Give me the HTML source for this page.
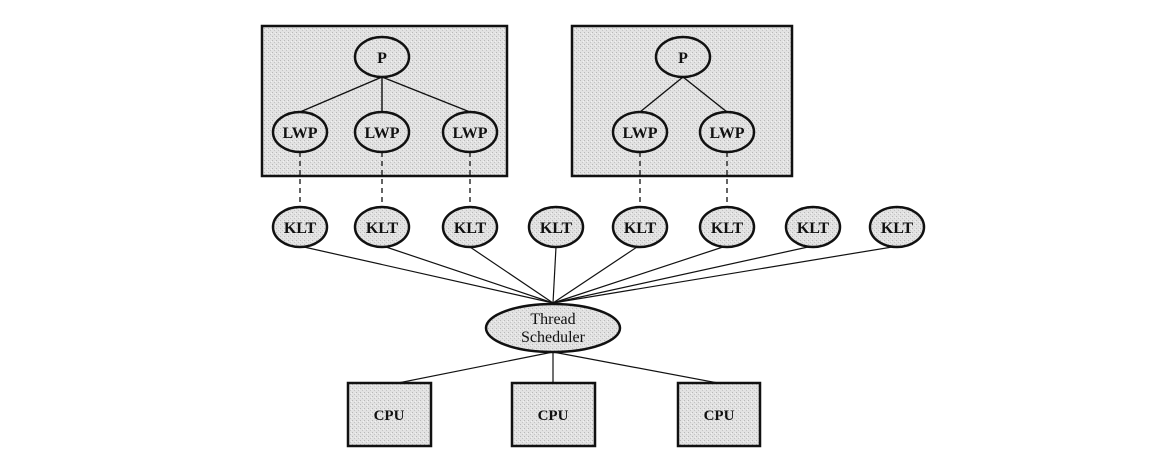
<!DOCTYPE html>
<html><head><style>body{margin:0;background:#fff}svg{display:block}</style></head><body>
<svg width="1157" height="456" viewBox="0 0 1157 456" xmlns="http://www.w3.org/2000/svg" font-family="Liberation Serif, serif" font-weight="bold">
<defs>
<pattern id="g" width="4" height="4" patternUnits="userSpaceOnUse">
<rect width="4" height="4" fill="#e2e2e2"/><rect x="0" y="0" width="1" height="1" fill="#b8b8b8"/><rect x="2" y="2" width="1" height="1" fill="#c4c4c4"/><rect x="3" y="1" width="1" height="1" fill="#f2f2f2"/>
</pattern>
</defs>
<g stroke="#111" stroke-width="2.5">
<rect x="262" y="26" width="245" height="150" fill="url(#g)"/>
<rect x="572" y="26" width="220" height="150" fill="url(#g)"/>
</g>
<g stroke="#111" stroke-width="1.4">
<line x1="382" y1="77" x2="300" y2="112"/><line x1="382" y1="77" x2="382" y2="112"/><line x1="382" y1="77" x2="470" y2="112"/>
<line x1="683" y1="77" x2="640" y2="112"/><line x1="683" y1="77" x2="727" y2="112"/>
</g>
<g stroke="#222" stroke-width="1.4" stroke-dasharray="5,4">
<line x1="300" y1="152" x2="300" y2="207"/><line x1="382" y1="152" x2="382" y2="207"/><line x1="470" y1="152" x2="470" y2="207"/>
<line x1="640" y1="152" x2="640" y2="207"/><line x1="727" y1="152" x2="727" y2="207"/>
</g>
<g stroke="#111" stroke-width="1.2">
<line x1="304" y1="247" x2="553" y2="303"/><line x1="386" y1="247" x2="553" y2="303"/><line x1="470" y1="247" x2="553" y2="303"/><line x1="556" y1="247" x2="553" y2="303"/>
<line x1="637" y1="247" x2="553" y2="303"/><line x1="723" y1="247" x2="553" y2="303"/><line x1="808" y1="247" x2="553" y2="303"/><line x1="892" y1="247" x2="553" y2="303"/>
<line x1="553" y1="352" x2="398" y2="383"/><line x1="553" y1="352" x2="553" y2="383"/><line x1="553" y1="352" x2="718" y2="383"/>
</g>
<g stroke="#111" stroke-width="2.5" fill="url(#g)">
<ellipse cx="382" cy="57" rx="27" ry="20"/><ellipse cx="683" cy="57" rx="27" ry="20"/>
<ellipse cx="300" cy="132" rx="27" ry="20"/><ellipse cx="382" cy="132" rx="27" ry="20"/><ellipse cx="470" cy="132" rx="27" ry="20"/>
<ellipse cx="640" cy="132" rx="27" ry="20"/><ellipse cx="727" cy="132" rx="27" ry="20"/>
<ellipse cx="300" cy="227" rx="27" ry="20"/><ellipse cx="382" cy="227" rx="27" ry="20"/><ellipse cx="470" cy="227" rx="27" ry="20"/><ellipse cx="556" cy="227" rx="27" ry="20"/>
<ellipse cx="640" cy="227" rx="27" ry="20"/><ellipse cx="727" cy="227" rx="27" ry="20"/><ellipse cx="813" cy="227" rx="27" ry="20"/><ellipse cx="897" cy="227" rx="27" ry="20"/>
<ellipse cx="553" cy="328" rx="67" ry="24"/>
<rect x="348" y="383" width="83" height="63"/><rect x="512" y="383" width="83" height="63"/><rect x="678" y="383" width="82" height="63"/>
</g>
<g font-size="16" text-anchor="middle" fill="#111">
<text x="382" y="63">P</text><text x="683" y="63">P</text>
<text x="300" y="138">LWP</text><text x="382" y="138">LWP</text><text x="470" y="138">LWP</text><text x="640" y="138">LWP</text><text x="727" y="138">LWP</text>
<text x="300" y="233">KLT</text><text x="382" y="233">KLT</text><text x="470" y="233">KLT</text><text x="556" y="233">KLT</text>
<text x="640" y="233">KLT</text><text x="727" y="233">KLT</text><text x="813" y="233">KLT</text><text x="897" y="233">KLT</text>
<text x="553" y="324" font-weight="normal">Thread</text><text x="553" y="342" font-weight="normal">Scheduler</text>
<text x="389" y="420" font-size="15">CPU</text><text x="553" y="420" font-size="15">CPU</text><text x="719" y="420" font-size="15">CPU</text>
</g>
</svg>
</body></html>
